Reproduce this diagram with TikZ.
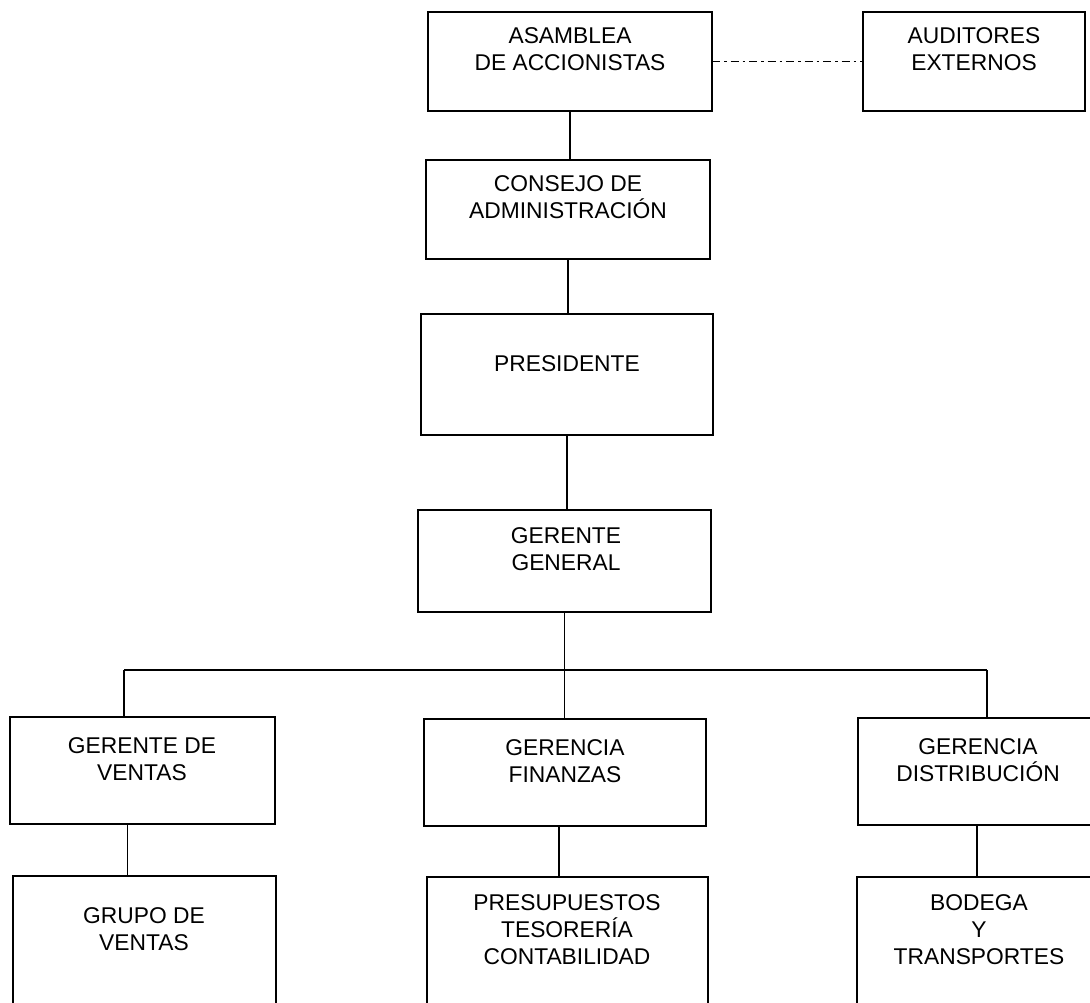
\documentclass[tikz,border=0pt]{standalone}
\usepackage{fontspec}
\setmainfont{Liberation Sans}
\tikzset{
  box/.style={draw, line width=2pt, inner sep=0pt, outer sep=0pt, anchor=north west},
  txt/.style={align=center, inner sep=0pt, anchor=north, font=\fontsize{22.8}{27}\selectfont},
  conn/.style={line width=1.6pt},
  dashdot/.style={line width=1.7pt, dash pattern=on 8pt off 4pt on 2.5pt off 4pt}
}
\begin{document}
\begin{tikzpicture}[x=1pt, y=-1pt]
\useasboundingbox (0,0) rectangle (1090,1002);
\clip (0,0) rectangle (1090,1002);
\fill[white] (0,0) rectangle (1090,1002);
% boxes
\node[box, minimum width=284pt, minimum height=99pt]  (asam)  at (428,12) {};
\node[box, minimum width=222pt, minimum height=99pt]  (aud)   at (863,12) {};
\node[box, minimum width=284pt, minimum height=99pt]  (cons)  at (426,160) {};
\node[box, minimum width=292pt, minimum height=121pt] (pres)  at (421,314) {};
\node[box, minimum width=293pt, minimum height=102pt] (gg)    at (418,510) {};
\node[box, minimum width=265pt, minimum height=107pt] (gv)    at (10,717) {};
\node[box, minimum width=282pt, minimum height=107pt] (gf)    at (424,719) {};
\node[box, minimum width=242pt, minimum height=107pt] (gd)    at (858,718) {};
\node[box, minimum width=263pt, minimum height=140pt] (grupo) at (13,876) {};
\node[box, minimum width=281pt, minimum height=140pt] (presu) at (427,877) {};
\node[box, minimum width=243pt, minimum height=140pt] (bod)   at (857,877) {};
% texts
\node[txt] (tAsam)  at (570,27)  {ASAMBLEA\\DE ACCIONISTAS};
\node[txt] (tAud)   at (974,27)  {AUDITORES\\EXTERNOS};
\node[txt] (tCons)  at (568,175) {CONSEJO DE\\ADMINISTRACIÓN};
\node[txt] (tPres)  at (567,355) {PRESIDENTE};
\node[txt] (tGG)    at (566,527) {GERENTE\\GENERAL};
\node[txt] (tGV)    at (142,737) {GERENTE DE\\VENTAS};
\node[txt] (tGF)    at (565,739) {GERENCIA\\FINANZAS};
\node[txt] (tGD)    at (978,738) {GERENCIA\\DISTRIBUCIÓN};
\node[txt] (tGrupo) at (144,907) {GRUPO DE\\VENTAS};
\node[txt] (tPresu) at (567,894) {PRESUPUESTOS\\TESORERÍA\\CONTABILIDAD};
\node[txt] (tBod)   at (979,894) {BODEGA\\Y\\TRANSPORTES};
% connectors
\draw[dashdot] (asam.east) -- (aud.west);
\draw[conn] (asam.south) -- (asam.south |- cons.north);
\draw[conn] (cons.south) -- (cons.south |- pres.north);
\draw[conn] (pres.south) -- (pres.south |- gg.north);
\coordinate (bL) at (124,670);
\coordinate (bR) at (987,670);
\draw[conn] (bL) -- (bR);
\draw[conn] (gg.south) -- (gg.south |- gf.north);
\draw[conn] (bL) -- (bL |- gv.north);
\draw[conn] (bR) -- (bR |- gd.north);
\draw[conn] ([xshift=-15pt]gv.south) -- ([xshift=-15pt]gv.south |- grupo.north);
\draw[conn] ([xshift=-6pt]gf.south) -- ([xshift=-6pt]gf.south |- presu.north);
\draw[conn] ([xshift=-2pt]gd.south) -- ([xshift=-2pt]gd.south |- bod.north);
\end{tikzpicture}
\end{document}
